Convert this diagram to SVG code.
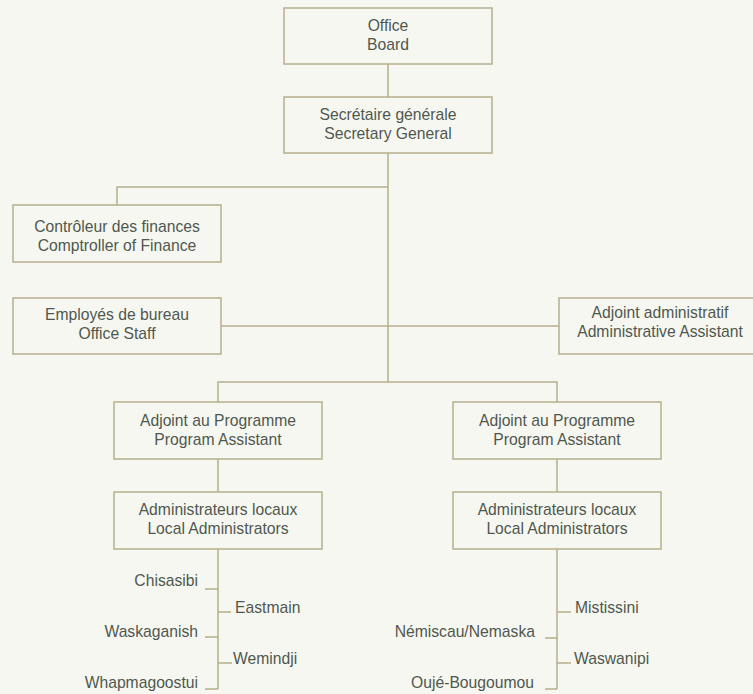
<svg xmlns="http://www.w3.org/2000/svg" width="753" height="694" viewBox="0 0 753 694">
<style>
.box{fill:none;stroke:#b4b08c;stroke-width:1.5}
.ln{fill:none;stroke:#b4b08c;stroke-width:1.5}
text{font-family:"Liberation Sans",Arial,sans-serif;font-size:15.7px;fill:#4f574f}
.c{text-anchor:middle}
.e{text-anchor:end}
.s{text-anchor:start}
</style>
<rect x="0" y="0" width="753" height="694" fill="#f7f7f1"/>
<g id="connectors">
<path class="ln" d="M388,64V97 M388,153V382 M117,205V187H388 M221,326H559 M218,402V382H557V402 M218,459V492 M557,459V492"/>
<path class="ln" d="M218,549V689 M205,589H218 M218,612H231 M205,637H218 M218,663H232 M205,689H218"/>
<path class="ln" d="M557,549V689 M557,612H571 M545,638H557 M557,663H571 M545,689H557"/>
</g>
<g id="office-board"><rect class="box" x="284" y="8" width="208" height="56"/><text class="c" x="388" y="31">Office</text><text class="c" x="388" y="50">Board</text></g>
<g id="secretary-general"><rect class="box" x="284" y="97" width="208" height="56"/><text class="c" x="388" y="120">Secrétaire générale</text><text class="c" x="388" y="139">Secretary General</text></g>
<g id="comptroller"><rect class="box" x="13" y="205" width="208" height="57"/><text class="c" x="117" y="232">Contrôleur des finances</text><text class="c" x="117" y="251">Comptroller of Finance</text></g>
<g id="office-staff"><rect class="box" x="13" y="298" width="208" height="56"/><text class="c" x="117" y="320">Employés de bureau</text><text class="c" x="117" y="339">Office Staff</text></g>
<g id="admin-assistant"><rect class="box" x="559" y="298" width="208" height="56"/><text class="c" x="660" y="318">Adjoint administratif</text><text class="c" x="660" y="337">Administrative Assistant</text></g>
<g id="program-assistant-left"><rect class="box" x="114" y="402" width="208" height="57"/><text class="c" x="218" y="426">Adjoint au Programme</text><text class="c" x="218" y="445">Program Assistant</text></g>
<g id="program-assistant-right"><rect class="box" x="453" y="402" width="208" height="57"/><text class="c" x="557" y="426">Adjoint au Programme</text><text class="c" x="557" y="445">Program Assistant</text></g>
<g id="local-admin-left"><rect class="box" x="114" y="492" width="208" height="57"/><text class="c" x="218" y="515">Administrateurs locaux</text><text class="c" x="218" y="534">Local Administrators</text></g>
<g id="local-admin-right"><rect class="box" x="453" y="492" width="208" height="57"/><text class="c" x="557" y="515">Administrateurs locaux</text><text class="c" x="557" y="534">Local Administrators</text></g>
<g id="communities-left">
<text class="e" x="198" y="586">Chisasibi</text>
<text class="s" x="235" y="613">Eastmain</text>
<text class="e" x="198" y="637">Waskaganish</text>
<text class="s" x="233" y="664">Wemindji</text>
<text class="e" x="198" y="688">Whapmagoostui</text>
</g>
<g id="communities-right">
<text class="s" x="575" y="613">Mistissini</text>
<text class="e" x="535" y="637">Némiscau/Nemaska</text>
<text class="s" x="574" y="664">Waswanipi</text>
<text class="e" x="534" y="688">Oujé-Bougoumou</text>
</g>
</svg>
